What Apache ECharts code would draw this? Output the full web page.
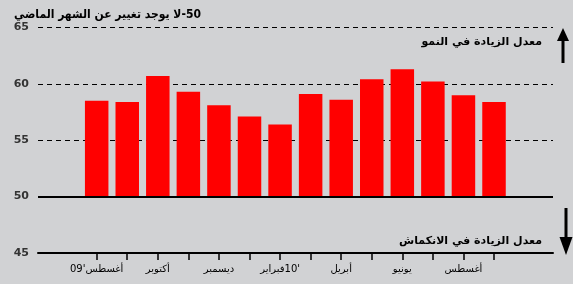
<!DOCTYPE html>
<html>
<head>
<meta charset="utf-8">
<script src="https://cdn.jsdelivr.net/npm/echarts@6/dist/echarts.min.js"></script>
<style>
  html, body { margin: 0; padding: 0; background: #d1d2d4; }
  #chart { width: 573px; height: 284px; }
</style>
</head>
<body>
<div id="chart"></div>
<script>
// months (Aug 09 .. Sep 10), only every second one gets a label
// each label is a list of pieces drawn left to right
var months = [["09'", "أغسطس"], ["سبتمبر"], ["أكتوبر"], ["نوفمبر"], ["ديسمبر"], ["يناير"], ["فبراير", "10'"],
              ["مارس"], ["أبريل"], ["مايو"], ["يونيو"], ["يوليو"], ["أغسطس"], ["سبتمبر"]];
var pmi = [58.5, 58.4, 60.7, 59.3, 58.1, 57.1, 56.4, 59.1, 58.6, 60.4, 61.3, 60.2, 59.0, 58.4];
var baseline = 50;
var yTicks = [45, 50, 55, 60, 65];
var titleText = "50-لا يوجد تغيير عن الشهر الماضي";
var upText = "معدل الزيادة في النمو";
var downText = "معدل الزيادة في الانكماش";

// right to left embedding so the number ends up on the right
function rtl(s) {
  return "\u202B" + s + "\u202C";
}

var chart = echarts.init(document.getElementById("chart"));
var barData = pmi.map(function (v, i) { return [i + 1, v]; });
var tickVals = months.map(function (m, i) { return i + 1; });
var labelVals = tickVals.filter(function (v) { return v % 2 == 1; });

var option = {
  backgroundColor: "#d1d2d4",
  animation: false,
  textStyle: { fontFamily: "DejaVu Sans" },
  grid: { left: 38, right: 20, top: 27.5, bottom: 31 },
  xAxis: {
    type: "value",
    min: -0.92,
    max: 15.93,
    splitLine: { show: false },
    axisLine: { show: true, lineStyle: { color: "#000", width: 2 } },
    axisTick: { show: true, customValues: tickVals, length: 7, lineStyle: { color: "#000", width: 1.5 } },
    axisLabel: {
      customValues: labelVals,
      margin: 11,
      fontSize: 10,
      color: "#000",
      formatter: function (v) {
        var m = months[Math.round(v) - 1];
        return m ? m.map(function (p) { return "{t|" + p + "}"; }).join("") : "";
      },
      rich: { t: { fontSize: 10, color: "#000", fontFamily: "DejaVu Sans" } }
    }
  },
  yAxis: {
    type: "value",
    min: yTicks[0],
    max: yTicks[yTicks.length - 1],
    interval: 5,
    axisLine: { show: false },
    axisTick: { show: false },
    axisLabel: { fontSize: 11, fontWeight: "bold", color: "#333", margin: 9 },
    splitLine: { lineStyle: { color: "#000", type: [5, 4], width: 1 } }
  },
  series: [
    {
      // the 50 line
      type: "line",
      data: [],
      markLine: {
        silent: true,
        symbol: "none",
        label: { show: false },
        lineStyle: { color: "#000", type: "solid", width: 2 },
        data: [{ yAxis: baseline }]
      }
    },
    {
      // bars grow from 50, not from the axis min
      type: "custom",
      data: barData,
      renderItem: function (params, api) {
        var top = api.coord([api.value(0), api.value(1)]);
        var base = api.coord([api.value(0), baseline]);
        var w = 23.5;
        return {
          type: "rect",
          shape: { x: top[0] - w / 2, y: top[1], width: w, height: base[1] - top[1] },
          style: { fill: "#ff0000" }
        };
      }
    }
  ],
  graphic: [
    { type: "text", left: 14, top: 9,
      style: { text: rtl(titleText), font: "bold 12px 'DejaVu Sans Condensed', 'DejaVu Sans'", fill: "#000" } },
    { type: "text", right: 31, top: 37,
      style: { text: upText, font: "bold 11px 'DejaVu Sans'", fill: "#000" } },
    { type: "text", right: 31, top: 236,
      style: { text: downText, font: "bold 11px 'DejaVu Sans'", fill: "#000" } },
    // up arrow
    { type: "line", shape: { x1: 563, y1: 63, x2: 563, y2: 38 }, style: { stroke: "#000", lineWidth: 3 } },
    { type: "polygon", shape: { points: [[557, 41], [569, 41], [563, 28]] }, style: { fill: "#000" } },
    // down arrow
    { type: "line", shape: { x1: 566, y1: 208, x2: 566, y2: 240 }, style: { stroke: "#000", lineWidth: 3 } },
    { type: "polygon", shape: { points: [[559.5, 237], [572.5, 237], [566, 255]] }, style: { fill: "#000" } }
  ]
};

chart.setOption(option);
</script>
</body>
</html>
